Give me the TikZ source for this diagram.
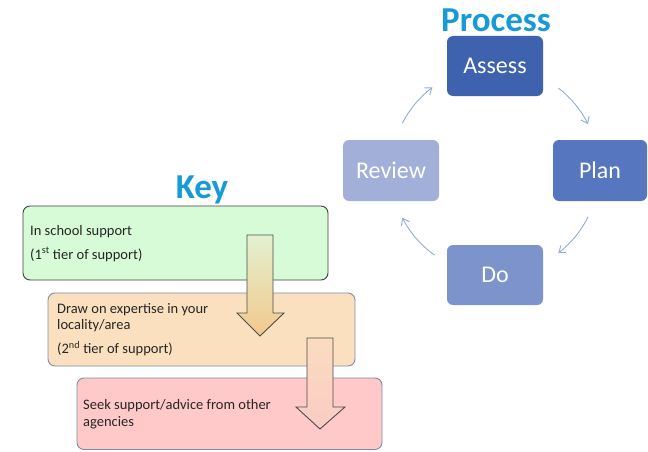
\documentclass[tikz,border=0pt]{standalone}
\usepackage{fontspec}
\setmainfont{Carlito}
\usetikzlibrary{arrows.meta}
\definecolor{titleblue}{HTML}{179BD7}
\definecolor{cAssess}{HTML}{3F62AE}
\definecolor{cPlan}{HTML}{5676C0}
\definecolor{cDo}{HTML}{7C93CB}
\definecolor{cReview}{HTML}{A1AFD9}
\definecolor{cycarrow}{HTML}{93AADA}
\definecolor{gfill}{HTML}{D6FBD6}
\definecolor{ofill}{HTML}{FAE0BE}
\definecolor{pfill}{HTML}{FFC9C9}
\definecolor{oborder}{HTML}{7F8CA6}
\definecolor{a1top}{HTML}{E2F1D0}
\definecolor{a1bot}{HTML}{F3C88C}
\definecolor{a2top}{HTML}{FADCBF}
\definecolor{a2bot}{HTML}{FBCBC6}
\begin{document}
\begin{tikzpicture}[x=1pt,y=1pt,
  stage/.style={rounded corners=6pt, minimum width=96pt, minimum height=60pt,
    text=white, font=\fontsize{24}{28}\selectfont, inner sep=0pt},
  title/.style={text=titleblue, font=\fontsize{35}{40}\selectfont\bfseries},
  cyc/.style={draw=cycarrow, line width=0.9pt, -{Straight Barb[length=6pt,width=9pt]}},
  keybox/.style={rounded corners=7pt, line width=0.9pt},
  keytext/.style={anchor=west, font=\fontsize{14.5}{17}\selectfont, text=black!85, inner sep=0pt},
  blockarrow/.style={draw=black!70, line width=0.9pt, line join=miter}
]
\useasboundingbox (0,0) rectangle (648,451);

% Process cycle
\node[title] (process) at (496,431) {Process};
\node[stage, fill=cAssess] (assess) at (495,385) {Assess};
\node[stage, fill=cPlan, minimum width=94pt, minimum height=61pt] (plan) at (600,280.5) {Plan};
\node[stage, fill=cReview, minimum height=61pt] (review) at (391,280.5) {Review};
\node[stage, fill=cDo] (do) at (495,176) {Do};

\coordinate (ctr) at (495,280.5);
\draw[cyc] (ctr) ++(52.5:104) arc[start angle=52.5, end angle=26.5, radius=104];
\draw[cyc] (ctr) ++(-26.5:104) arc[start angle=-26.5, end angle=-52.5, radius=104];
\draw[cyc] (ctr) ++(234.5:104) arc[start angle=234.5, end angle=207, radius=104];
\draw[cyc] (ctr) ++(153:104) arc[start angle=153, end angle=127, radius=104];

% Key
\node[title] (key) at (202,261) {Key};

\draw[keybox, draw=black!75, fill=gfill] (23,171) rectangle (328,245);
\node[keytext] (g1) at (30,219.5) {In school support};
\node[keytext] (g2) at (30,196.5) {(1\textsuperscript{st} tier of support)};

\draw[keybox, draw=oborder, fill=ofill] (48,85) rectangle (355,158);
\node[keytext] (o1) at (57,141.5) {Draw on expertise in your};
\node[keytext] (o2) at (57,125.5) {locality/area};
\node[keytext] (o3) at (57,102) {(2\textsuperscript{nd} tier of support)};

\draw[blockarrow, top color=a1top, bottom color=a1bot]
  (247,216) -- (273,216) -- (273,138) -- (284,138) -- (260,115) -- (237,138) -- (247,138) -- cycle;

\draw[keybox, draw=oborder, fill=pfill] (77,1.5) rectangle (382,73);
\node[keytext] (p1) at (83,45) {Seek support/advice from other};
\node[keytext] (p2) at (83,28.5) {agencies};

\draw[blockarrow, top color=a2top, bottom color=a2bot]
  (307,113) -- (333,113) -- (333,44) -- (345,44) -- (320,22) -- (296,44) -- (307,44) -- cycle;
\end{tikzpicture}
\end{document}
